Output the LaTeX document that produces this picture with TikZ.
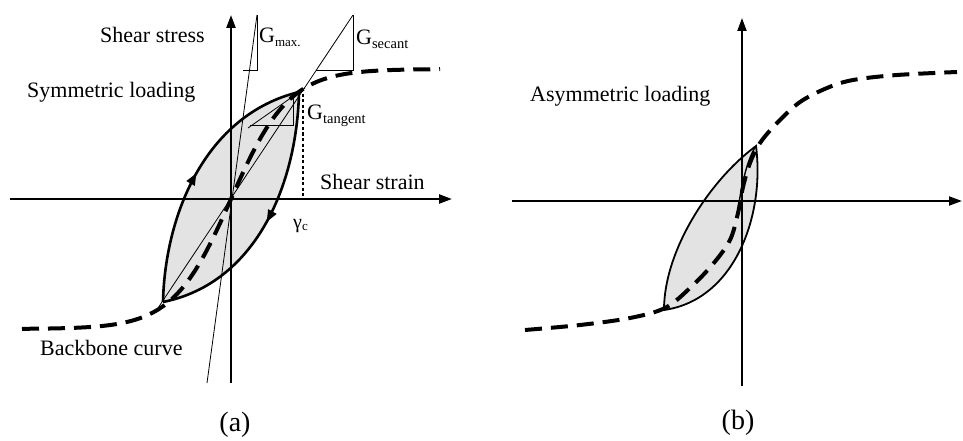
\documentclass[tikz,border=0pt]{standalone}
\usepackage{fontspec}
\setmainfont{Liberation Serif}
\usetikzlibrary{arrows.meta,decorations.markings}
\begin{document}
\begin{tikzpicture}[x=1pt,y=-1pt,
  axis/.style={line width=2.4pt,-{Triangle[length=13pt,width=9pt]}},
  thinline/.style={line width=0.8pt},
  backbone/.style={line width=4pt,dash pattern=on 17pt off 9pt},
  loopline/.style={line width=2.6pt},
  looplineb/.style={line width=1.8pt},
  loopfill/.style={fill=black!11},
  dotline/.style={line width=1.6pt,dash pattern=on 3pt off 2.5pt},
  flowarrow/.style={postaction={decorate},decoration={markings,mark=at position 0.5 with {\arrow{Triangle[length=12pt,width=9pt]}}}},
  lbl/.style={font=\fontsize{22}{26}\selectfont,inner sep=0pt,anchor=base west},
  captxt/.style={font=\fontsize{28}{32}\selectfont,inner sep=0pt,anchor=base}]
\useasboundingbox (0,0) rectangle (963,441);

% ---------------- panel (a) ----------------
\coordinate (Oa) at (231,199);
\coordinate (Ta) at (299,92);
\coordinate (Ba) at (163,302);
\coordinate (xaL) at (10,199);
\coordinate (xaR) at (452,199);
\coordinate (yaB) at (231,383);
\coordinate (yaT) at (231,15);

% loop fill
\fill[loopfill] (Ba) .. controls (165,215) and (205,115) .. (Ta)
                     .. controls (297,183) and (257,283) .. (Ba) -- cycle;

% axes
\draw[axis] (xaL) -- (xaR);
\draw[axis] (yaB) -- (yaT);

% G max line and triangle
\coordinate (gmB) at (207,383);
\coordinate (gmT) at (257,15);
\draw[thinline] (gmB) -- (gmT);
\coordinate (gmH) at (243,70);
\coordinate (gmC) at (257,70);
\draw[thinline] (gmH) -- (gmC) -- (gmT);

% G secant line and triangle
\coordinate (gsB) at (158,308);
\coordinate (gsT) at (353,15);
\draw[thinline] (gsB) -- (gsT);
\coordinate (gsH) at (316,70);
\coordinate (gsC) at (353,70);
\draw[thinline] (gsH) -- (gsC) -- (gsT);

% G tangent line and triangle
\coordinate (gtB) at (248,128);
\coordinate (gtT) at (305,88);
\draw[thinline] (gtB) -- (gtT);
\coordinate (gtH) at (250,125);
\coordinate (gtC) at (293,125);
\coordinate (gtV) at (293,96);
\draw[thinline] (gtH) -- (gtC) -- (gtV);

% dotted gamma_c line
\coordinate (gcT) at (303,94);
\coordinate (gcB) at (303,199);
\draw[dotline] (gcT) -- (gcB);

% backbone curve (a)
\draw[backbone] plot[domain=-209:209,samples=90] ({231+\x},{199-130*tanh(\x/58)});

% loop outline with arrows
\draw[loopline,flowarrow] (Ba) .. controls (165,215) and (205,115) .. (Ta);
\draw[loopline,flowarrow] (Ta) .. controls (297,183) and (257,283) .. (Ba);

% labels (a)
\node[lbl] (ss) at (100,43) {Shear stress};
\node[lbl] (sl) at (27,98) {Symmetric loading};
\node[lbl] (sst) at (320,189) {Shear strain};
\node[lbl] (bc) at (40,355) {Backbone curve};
\node[lbl] (gm) at (259,43) {G\raisebox{-4pt}{\fontsize{13}{15}\selectfont max.}};
\node[lbl] (gs) at (356,45) {G\raisebox{-4pt}{\fontsize{14.5}{16}\selectfont secant}};
\node[lbl] (gt) at (307,120) {G\raisebox{-4pt}{\fontsize{14.5}{16}\selectfont tangent}};
\node[lbl] (gc) at (293,228) {\fontsize{20}{22}\selectfont γ\raisebox{-2pt}{\fontsize{13}{15}\selectfont c}};
\node[captxt] (ca) at (235,431) {(a)};

% ---------------- panel (b) ----------------
\coordinate (Tb) at (756,146);
\coordinate (Bb) at (664,310);
\coordinate (xbL) at (512,201);
\coordinate (xbR) at (962,201);
\coordinate (ybB) at (742,386);
\coordinate (ybT) at (742,18);

\fill[loopfill] (Bb) .. controls (664,250) and (710,180) .. (Tb)
                     .. controls (765,215) and (735,300) .. (Bb) -- cycle;

\draw[axis,line width=2pt] (xbL) -- (xbR);
\draw[axis,line width=2pt] (ybB) -- (ybT);

\draw[backbone] plot[smooth,tension=0.55] coordinates {(525,330) (580,325) (630,318) (665,308) (690,288) (713,264) (730,240) (738,213) (743,187) (750,163) (760,143) (777,123) (800,102) (827,88) (853,80) (897,75) (957,72)};

\draw[looplineb] (Bb) .. controls (664,250) and (710,180) .. (Tb)
                      .. controls (765,215) and (735,300) .. (Bb);
\coordinate (ib) at (737,216);
\draw[line width=1.4pt] (ib) .. controls (742,180) and (748,158) .. (Tb);

\node[lbl] (al) at (530,102) {Asymmetric loading};
\node[captxt] (cb) at (738,429) {(b)};
\end{tikzpicture}
\end{document}
